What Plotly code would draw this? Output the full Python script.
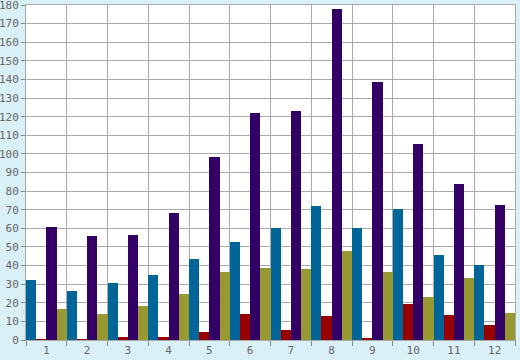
import plotly.graph_objects as go

categories = ["1", "2", "3", "4", "5", "6", "7", "8", "9", "10", "11", "12"]
series_blue = [32.2, 26.3, 30.6, 34.9, 43.5, 52.7, 60.2, 72.0, 60.2, 70.4, 45.7, 40.3]
series_red = [0.5, 0.5, 1.6, 1.8, 4.3, 14.0, 5.4, 12.9, 0.8, 19.3, 13.4, 8.1]
series_purple = [60.7, 55.9, 56.4, 68.2, 98.3, 122.0, 123.0, 178.0, 138.6, 105.3, 83.8, 72.5]
series_olive = [16.6, 14.0, 18.3, 24.7, 36.5, 38.7, 38.1, 47.8, 36.5, 23.1, 33.3, 14.5]
y_ticks = list(range(0, 181, 10))

series = [
    ("Series 1", series_blue, "#006699"),
    ("Series 2", series_red, "#990000"),
    ("Series 3", series_purple, "#330066"),
    ("Series 4", series_olive, "#999933"),
]

fig = go.Figure()
for name, vals, col in series:
    fig.add_trace(go.Bar(x=categories, y=vals, name=name,
                         marker=dict(color=col, line=dict(width=0))))

font = dict(family="DejaVu Sans Mono", size=11, color="#666666")
fig.update_layout(
    width=520, height=360,
    margin=dict(l=26, r=5, t=5, b=20, autoexpand=False),
    paper_bgcolor="#daf0f7",
    plot_bgcolor="#ffffff",
    barmode="group", bargap=0, bargroupgap=0,
    showlegend=False,
    font=font,
    xaxis=dict(
        type="category", tickson="boundaries", automargin=False,
        showgrid=True, gridcolor="#aaaaaa", gridwidth=1,
        ticks="outside", ticklen=5, tickcolor="#888888",
        showline=True, linecolor="#aaaaaa", linewidth=1, mirror=True,
        tickfont=font, ticklabeloverflow="allow",
    ),
    yaxis=dict(
        range=[0, 180], tickvals=y_ticks, automargin=False,
        showgrid=True, gridcolor="#aaaaaa", gridwidth=1,
        ticks="outside", ticklen=4, tickcolor="#888888",
        showline=True, linecolor="#aaaaaa", linewidth=1, mirror=True,
        zeroline=False, tickfont=font, ticklabeloverflow="allow",
    ),
)
fig.write_html("out.html", config={"displayModeBar": False})

with open("out.html", "r", encoding="utf-8") as f:
    html = f.read()
html = html.replace("<head>", "<head><style>html,body{margin:0;padding:0;overflow:hidden;}</style>", 1)
with open("out.html", "w", encoding="utf-8") as f:
    f.write(html)
